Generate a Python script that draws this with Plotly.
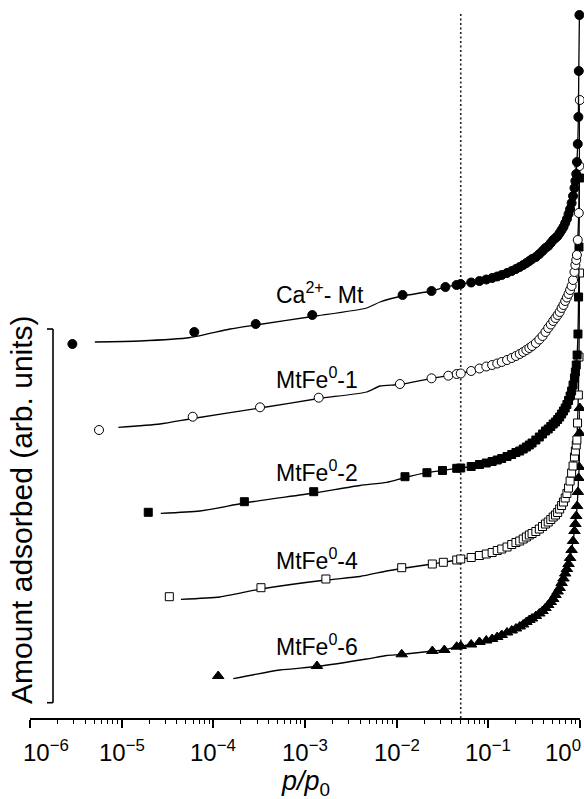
import math
import plotly.graph_objects as go

# ---------------- data (p/p0, amount adsorbed in arbitrary units) ----------------
p_band = [0.05, 0.065, 0.08, 0.095, 0.11, 0.125, 0.14, 0.16, 0.18, 0.20, 0.22, 0.24,
          0.26, 0.28, 0.30, 0.33, 0.36, 0.39, 0.42, 0.45, 0.48, 0.51, 0.54, 0.57,
          0.60, 0.63, 0.66, 0.69, 0.72, 0.75, 0.78, 0.81, 0.84, 0.87, 0.89, 0.91]

# Ca2+-Mt
ca_p_low = [2.9e-6, 6.2e-5, 2.9e-4, 1.2e-3, 0.0116, 0.024, 0.034, 0.045]
ca_y_low = [374, 386, 394, 403, 423, 427, 431, 433]
ca_y_band = [434, 435.5, 437, 438.5, 440, 441.5, 443, 445, 447, 449, 451, 453,
             455, 457, 459, 461, 464, 467, 470, 472, 475, 478, 480, 482,
             485, 488, 491, 495, 499, 504, 509, 515, 522, 530, 537, 544]
ca_p_top = [0.925, 0.945, 0.96, 0.97, 0.985]
ca_y_top = [556, 574, 601, 647, 703]
ca_line_p = [5.1e-6, 1.58e-5, 5.6e-5, 1.52e-4, 2.9e-4, 1.21e-3, 4.71e-3, 6.58e-3, 0.0116]
ca_line_y = [376, 377, 380.5, 389, 393, 401.5, 410, 416, 422]

# MtFe0-1
fe1_p_low = [5.66e-6, 5.96e-5, 3.23e-4, 1.41e-3, 0.01086, 0.024, 0.0366, 0.0452]
fe1_y_low = [288, 301.3, 310.7, 320.3, 334, 339.7, 342.3, 344]
fe1_y_band = [344.5, 347, 349.5, 351.5, 353, 354.5, 356, 358, 360, 362, 364, 366,
              368, 370, 372, 375, 378.5, 382, 386, 390, 393.5, 397, 400, 403,
              406, 410, 413, 417, 420.5, 424, 428, 432, 438, 446, 453, 458]
fe1_p_top = [0.925, 0.945, 0.97, 0.985, 0.995]
fe1_y_top = [463, 478, 505, 552, 618]
fe1_line_p = [9.2e-6, 2.62e-5, 5.96e-5, 3.23e-4, 1.41e-3, 4.71e-3, 6.58e-3, 0.01086]
fe1_line_y = [290.7, 294, 299.5, 310, 319.5, 326, 332, 333.5]

# MtFe0-2
fe2_p_low = [1.95e-5, 2.18e-4, 1.245e-3, 0.01233, 0.0214, 0.0316, 0.0452]
fe2_y_low = [205.7, 216.3, 226.3, 241.3, 245.3, 247.5, 249.7]
fe2_y_band = [250, 251.5, 253.5, 255, 256.5, 258, 259.5, 261.5, 263.5, 265.5, 267, 269,
              271, 273, 275, 278, 281, 284, 287, 289, 291.5, 294, 296, 298.5,
              301, 304, 307, 310, 313.5, 317.5, 322, 327, 333, 340, 346, 353]
fe2_p_top = [0.93, 0.95, 0.965, 0.975, 0.99]
fe2_y_top = [363, 384, 421, 471, 540]
fe2_line_p = [2.67e-5, 7.14e-5, 2.18e-4, 1.245e-3, 3.98e-3, 7.78e-3, 0.01233]
fe2_line_y = [204.7, 207, 215, 225, 232.5, 235.7, 240.5]

# MtFe0-4
fe4_p_low = [3.31e-5, 3.31e-4, 1.69e-3, 0.01135, 0.0245, 0.0323, 0.0452]
fe4_y_low = [121.3, 130.3, 139, 150.3, 154, 155.7, 158]
fe4_y_band = [159, 160.5, 162.5, 164, 165.5, 167.5, 169, 171, 173.5, 175.5, 177, 179,
              181, 183, 184.5, 186.5, 189, 191.5, 194, 196, 198.5, 201, 203, 205.5,
              209, 212.5, 216, 220, 224.5, 230, 237, 245, 252, 261, 267, 273]
fe4_p_top = [0.925, 0.94, 0.96, 0.975, 0.99]
fe4_y_top = [278, 295, 323, 361, 445]
fe4_line_p = [4.43e-5, 1.18e-4, 3.31e-4, 1.69e-3, 3.98e-3, 7.78e-3, 0.01135]
fe4_line_y = [118.7, 121, 129, 138, 141.5, 147, 149.5]

# MtFe0-6
fe6_p_low = [1.13e-4, 1.35e-3, 0.01135, 0.0245, 0.0331, 0.0452]
fe6_y_low = [42, 52, 63.7, 67, 68, 71.3]
fe6_y_band = [72, 73.5, 76, 77.5, 79, 81, 83, 85.5, 87.5, 89.5, 91.5, 93.5,
              96, 98, 99.5, 102, 104.5, 107, 110, 113, 116, 119, 123, 126.5,
              130, 135, 139.5, 144.5, 149, 154, 160, 168, 177, 187, 194, 202]
fe6_p_top = [0.93, 0.95, 0.965, 0.98, 0.99, 0.995]
fe6_y_top = [212, 226, 240, 251, 285, 310]
fe6_line_p = [1.65e-4, 5.33e-4, 1.35e-3, 4.71e-3, 7.78e-3, 0.01135]
fe6_line_y = [39.3, 48, 51.5, 59, 62.5, 63.5]

labels = ["Ca<sup>2+</sup>- Mt", "MtFe<sup>0</sup>-1", "MtFe<sup>0</sup>-2",
          "MtFe<sup>0</sup>-4", "MtFe<sup>0</sup>-6"]
label_y = [424.7, 340.3, 247.3, 159, 73]
label_logx = -3.625

tick_vals = [1e-6, 1e-5, 1e-4, 1e-3, 1e-2, 1e-1, 1]
tick_text = ["10<sup>\u22126</sup>", "10<sup>\u22125</sup>", "10<sup>\u22124</sup>",
             "10<sup>\u22123</sup>", "10<sup>\u22122</sup>", "10<sup>\u22121</sup>",
             "10<sup>0</sup>"]
tick_shift = [16, 0, 0, 0, 0, 0, -17]
minor_vals = [k * 10.0 ** e for e in range(-6, 0) for k in range(2, 10)]
ref_p = 0.05
y_top = 718

FONT = "Liberation Sans, Arial, Helvetica, sans-serif"

series = [
    (ca_p_low, ca_y_low, ca_y_band, ca_p_top, ca_y_top, ca_line_p, ca_line_y,
     dict(symbol="circle", size=9, color="black", line=dict(color="black", width=1))),
    (fe1_p_low, fe1_y_low, fe1_y_band, fe1_p_top, fe1_y_top, fe1_line_p, fe1_line_y,
     dict(symbol="circle", size=9, color="white", line=dict(color="black", width=1))),
    (fe2_p_low, fe2_y_low, fe2_y_band, fe2_p_top, fe2_y_top, fe2_line_p, fe2_line_y,
     dict(symbol="square", size=8, color="black", line=dict(color="black", width=1))),
    (fe4_p_low, fe4_y_low, fe4_y_band, fe4_p_top, fe4_y_top, fe4_line_p, fe4_line_y,
     dict(symbol="square", size=8, color="white", line=dict(color="black", width=1))),
    (fe6_p_low, fe6_y_low, fe6_y_band, fe6_p_top, fe6_y_top, fe6_line_p, fe6_line_y,
     dict(symbol="triangle-up", size=10, color="black", line=dict(color="black", width=1))),
]

fig = go.Figure()

# dotted reference line at p/p0 = 0.05
fig.add_trace(go.Scatter(x=[ref_p, ref_p], y=[0, 705], mode="lines",
                         line=dict(color="#222", width=1.6, dash="2px,2.5px"),
                         hoverinfo="skip", cliponaxis=False))

for (p_low, y_low, y_band, p_top, y_top_s, line_p, line_y, mk) in reversed(series):
    mx = p_low + p_band + p_top
    my = y_low + y_band + y_top_s
    lx = list(line_p) + [p for p in mx if p > line_p[-1]]
    ly = list(line_y) + [y for p, y in zip(mx, my) if p > line_p[-1]]
    fig.add_trace(go.Scatter(x=lx, y=ly, mode="lines", line_shape="spline",
                             line=dict(color="black", width=1.3, smoothing=0.6),
                             cliponaxis=False))
    fig.add_trace(go.Scatter(x=mx, y=my, mode="markers", marker=mk, cliponaxis=False))

for txt, yv in zip(labels, label_y):
    fig.add_annotation(x=label_logx, y=yv, xref="x", yref="y", text=txt,
                       showarrow=False, xanchor="left", yanchor="middle", xshift=26,
                       font=dict(family=FONT, size=23, color="black"))

# tick labels placed at the axis tick values
for tv, tt, sh in zip(tick_vals, tick_text, tick_shift):
    fig.add_annotation(x=math.log10(tv), y=-0.046, xref="x", yref="paper", text=tt,
                       showarrow=False, xanchor="center", yanchor="middle", xshift=sh,
                       borderpad=0, font=dict(family=FONT, size=24, color="black"))

# y-axis title
fig.add_annotation(x=-0.0164, y=209, xref="paper", yref="y",
                   text="Amount adsorbed (arb. units)", textangle=-90,
                   showarrow=False, xanchor="center", yanchor="middle",
                   font=dict(family=FONT, size=30, color="black"))
# x-axis title
fig.add_annotation(x=0.5, y=-0.0905, xref="paper", yref="paper",
                   text="<i>p/p</i><sub>0</sub>", showarrow=False,
                   xanchor="center", yanchor="middle", borderpad=0,
                   font=dict(family=FONT, size=27, color="black"))

# scale bracket
bx = (53 - 30) / 550
bc = (47 - 30) / 550
for shp in [dict(x0=bx, x1=bx, y0=15.3, y1=389),
            dict(x0=bc, x1=bx, y0=15.3, y1=15.3),
            dict(x0=bc, x1=bx, y0=389, y1=389)]:
    fig.add_shape(type="line", xref="paper", yref="y",
                  line=dict(color="black", width=1.6), **shp)

fig.update_layout(
    width=584, height=799,
    margin=dict(l=30, r=4, t=0, b=81),
    plot_bgcolor="white", paper_bgcolor="white",
    showlegend=False,
    xaxis=dict(type="log", range=[-6, 0], showgrid=False, zeroline=False,
               showline=True, linecolor="black", linewidth=2,
               ticks="outside", ticklen=8, tickwidth=1.5, tickcolor="black",
               tickmode="array", tickvals=tick_vals, showticklabels=False,
               minor=dict(tickmode="array", tickvals=minor_vals, ticks="outside",
                          ticklen=4, tickwidth=1.2, tickcolor="black", showgrid=False)),
    yaxis=dict(range=[0, y_top], visible=False),
)

fig.write_html("out.html")
